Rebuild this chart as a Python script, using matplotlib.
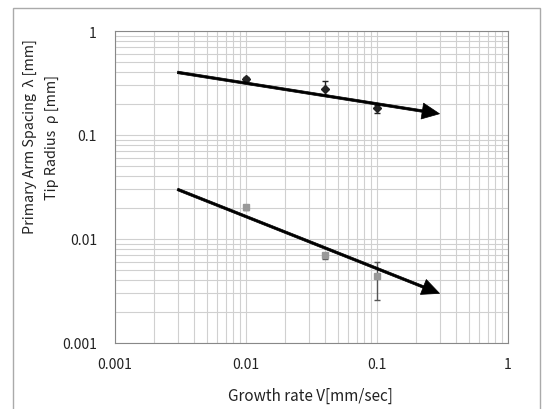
import matplotlib
matplotlib.use("Agg")
import matplotlib.pyplot as plt
from matplotlib.patches import Rectangle

plt.rcParams['font.family'] = ['Noto Sans CJK JP', 'DejaVu Sans']

# data
v = [0.01, 0.04, 0.1]
spacing = [0.345, 0.277, 0.181]
spacing_lo = [0.015, 0.035, 0.02]
spacing_hi = [0.015, 0.05, 0.015]
radius = [0.0202, 0.0070, 0.0044]
radius_lo = [0.0010, 0.0006, 0.0018]
radius_hi = [0.0010, 0.0004, 0.0016]
fit_v = [0.003, 0.3]
fit_spacing = [0.40, 0.16]
fit_radius = [0.030, 0.0030]

xticks = [0.001, 0.01, 0.1, 1]
xticklabels = ['0.001', '0.01', '0.1', '1']
yticks = [0.001, 0.01, 0.1, 1]
yticklabels = ['0.001', '0.01', '0.1', '1']

W, H = 543, 410
fig = plt.figure(figsize=(W / 100, H / 100), dpi=100)
ax = fig.add_axes([115 / W, 1 - 344 / H, (508 - 115) / W, (344 - 32) / H])

ax.set_xscale('log')
ax.set_yscale('log')
ax.set_xlim(0.001, 1)
ax.set_ylim(0.001, 1)

ax.grid(True, which='both', color='#d0d0d0', linewidth=0.8)
ax.set_axisbelow(True)
for s in ax.spines.values():
    s.set_color('#888888')
    s.set_linewidth(0.8)
ax.tick_params(which='both', length=0)
ax.set_xticks(xticks)
ax.set_xticklabels(xticklabels)
ax.set_yticks(yticks)
ax.set_yticklabels(yticklabels)
ax.tick_params(axis='x', pad=10, labelsize=10, colors='#222222')
ax.tick_params(axis='y', pad=13, labelsize=10, colors='#222222')

ax.errorbar(v, spacing, yerr=[spacing_lo, spacing_hi], fmt='D', color='#222222',
            markersize=4, capsize=2.5, elinewidth=1, zorder=4)
ax.errorbar(v, radius, yerr=[radius_lo, radius_hi], fmt='s', color='#999999',
            ecolor='#555555', markersize=5, capsize=2.5, elinewidth=1, zorder=4)

for fy in (fit_spacing, fit_radius):
    ax.annotate('', xy=(fit_v[1], fy[1]), xytext=(fit_v[0], fy[0]),
                xycoords='data', textcoords='data',
                arrowprops=dict(width=1.8, headwidth=11.5, headlength=12.5,
                                facecolor='black', edgecolor='black', lw=0.5,
                                shrink=0),
                zorder=5)

fig.text(310 / W, 1 - 396 / H, 'Growth rate V[mm/sec]', ha='center', va='center',
         fontsize=11, color='#222222')
fig.text(30 / W, 1 - 137 / H, 'Primary Arm Spacing  λ [mm]', rotation=90,
         ha='center', va='center', fontsize=10.3, color='#222222')
fig.text(52 / W, 1 - 137 / H, 'Tip Radius  ρ [mm]', rotation=90,
         ha='center', va='center', fontsize=10.3, color='#222222')

fig.add_artist(Rectangle((13 / W, -0.05), (540 - 13) / W, 1 - 8.5 / H + 0.05,
                         transform=fig.transFigure, fill=False,
                         edgecolor='#aaaaaa', linewidth=1))

fig.savefig('out.png', dpi=100)
